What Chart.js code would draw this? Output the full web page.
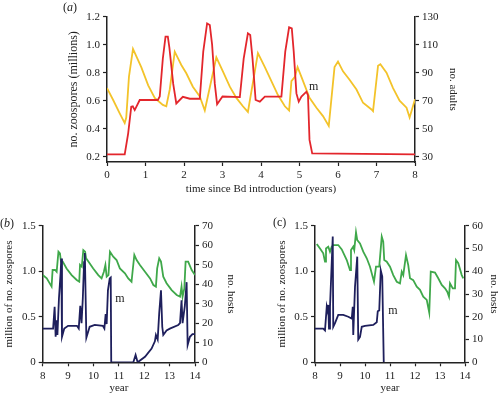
<!DOCTYPE html>
<html lang="en">
<head>
<meta charset="UTF-8">
<title>Bd zoospores and hosts</title>
<script src="https://cdn.jsdelivr.net/npm/chart.js@4.4.0/dist/chart.umd.min.js"></script>
<style>
    body { margin: 0; background: #fff; font-family: "Liberation Serif", serif; }
    .wrap { position: relative; width: 500px; height: 394px; overflow: hidden; }
    canvas { position: absolute; }
    .lab { position: absolute; font-size: 12px; color: #222; line-height: 14px; }
</style>
</head>
<body>
<div class="wrap">
    <canvas id="ca" width="500" height="200" style="left:0;top:0"></canvas>
    <canvas id="cb" width="250" height="194" style="left:0;top:200px"></canvas>
    <canvas id="cc" width="250" height="194" style="left:250px;top:200px"></canvas>
    <div class="lab" style="left:63px;top:0">(<i>a</i>)</div>
    <div class="lab" style="left:0;top:216px">(<i>b</i>)</div>
    <div class="lab" style="left:273px;top:215px">(c)</div>
</div>
<script>
    // panel (a): zoospores (millions) and adults over 8 years
    const aSporeYears = [0, 0.46, 0.55, 0.63, 0.67, 0.72, 0.85, 1.32, 1.37, 1.45, 1.52, 1.58, 1.62, 1.72, 1.8, 1.97, 2.15, 2.41, 2.5, 2.6, 2.67, 2.73, 2.8, 2.86, 3.0, 3.45, 3.55, 3.66, 3.72, 3.78, 3.86, 3.97, 4.1, 4.53, 4.63, 4.73, 4.8, 4.85, 4.92, 4.98, 5.05, 5.18, 5.22, 5.26, 5.33, 8.0];
    const aSpores = [0.217, 0.217, 0.367, 0.557, 0.56, 0.533, 0.605, 0.605, 0.63, 0.9, 1.057, 1.057, 0.98, 0.72, 0.58, 0.628, 0.614, 0.614, 0.95, 1.152, 1.14, 1.0, 0.72, 0.574, 0.63, 0.625, 0.9, 1.081, 1.07, 0.9, 0.605, 0.593, 0.629, 0.629, 0.95, 1.124, 1.117, 0.95, 0.652, 0.593, 0.629, 0.664, 0.64, 0.32, 0.224, 0.217];
    const aAdultYears = [0, 0.16, 0.33, 0.46, 0.5, 0.57, 0.675, 0.89, 1.07, 1.24, 1.45, 1.54, 1.63, 1.76, 1.93, 2.06, 2.23, 2.41, 2.54, 2.84, 3.01, 3.19, 3.36, 3.53, 3.66, 3.92, 4.1, 4.27, 4.44, 4.62, 4.73, 4.79, 4.88, 4.95, 5.05, 5.26, 5.44, 5.61, 5.76, 5.91, 6.0, 6.13, 6.3, 6.48, 6.65, 6.87, 6.91, 7.04, 7.1, 7.26, 7.43, 7.6, 7.78, 7.86, 8.0];
    const aAdults = [79, 70.5, 61, 54, 58, 87, 107, 94, 81, 72, 67, 66, 78, 105, 95.5, 89.6, 80, 73, 63, 101, 91, 80, 72, 66, 62, 104, 94, 84, 74, 66, 63, 84, 87, 94, 87, 72, 65, 59, 52, 94, 98, 91, 85, 78, 68.5, 63.7, 62.5, 95, 96, 90, 79, 70, 65, 58, 71];
    const aYearTicks = [0, 1, 2, 3, 4, 5, 6, 7, 8];
    const aSporeTicks = [0.2, 0.4, 0.6, 0.8, 1.0, 1.2];
    const aAdultTicks = [30, 50, 70, 90, 110, 130];

    // panel (b)
    const bSporeYears = [8, 8.41, 8.47, 8.51, 8.55, 8.58, 8.64, 8.71, 8.73, 8.76, 8.85, 9.0, 9.35, 9.42, 9.48, 9.53, 9.58, 9.63, 9.66, 9.72, 9.85, 10.05, 10.37, 10.43, 10.48, 10.52, 10.57, 10.64, 10.68, 10.7, 11.57, 11.66, 11.74, 12.03, 12.29, 12.42, 12.46, 12.53, 12.59, 12.66, 12.71, 12.75, 12.88, 13.01, 13.34, 13.41, 13.47, 13.51, 13.6, 13.67, 13.71, 13.8, 13.9, 14.0];
    const bSpores = [0.37, 0.37, 0.61, 0.28, 0.46, 0.3, 0.7, 1.0, 1.14, 0.28, 0.37, 0.4, 0.4, 0.37, 0.62, 0.43, 0.7, 1.1, 1.2, 0.27, 0.39, 0.41, 0.4, 0.37, 0.53, 0.42, 0.79, 0.92, 0.93, 0, 0, 0.08, 0, 0.06, 0.15, 0.23, 0.3, 0.25, 0.54, 0.79, 0.39, 0.3, 0.35, 0.37, 0.41, 0.43, 0.68, 0.43, 0.62, 0.88, 0.19, 0.28, 0.31, 0.31];
    const bHostYears = [8, 8.16, 8.35, 8.39, 8.49, 8.55, 8.62, 8.68, 8.72, 8.79, 8.94, 9.14, 9.34, 9.44, 9.47, 9.54, 9.6, 9.67, 9.71, 9.8, 9.99, 10.19, 10.32, 10.41, 10.47, 10.52, 10.59, 10.65, 10.78, 10.91, 11.04, 11.24, 11.37, 11.5, 11.54, 11.61, 11.7, 11.83, 12.03, 12.23, 12.36, 12.46, 12.51, 12.59, 12.66, 12.75, 12.88, 13.08, 13.28, 13.41, 13.47, 13.51, 13.58, 13.63, 13.73, 13.87, 14.0];
    const bHosts = [44.7, 43, 38.8, 47.3, 47.3, 46.4, 56.7, 55.8, 51.6, 51.6, 48.1, 44.7, 42.2, 41.3, 49.9, 49, 57.5, 56.7, 53.3, 51.6, 48.1, 44.7, 43, 46.4, 49.9, 43.9, 44.7, 56.7, 54.1, 52.4, 48.1, 45.6, 43, 41.3, 46.4, 55, 52.4, 49.9, 46.4, 43, 39.6, 38.8, 48.1, 53.3, 51.6, 43.9, 40.5, 37, 34.5, 33.6, 38.8, 33.6, 37.9, 51.6, 51.6, 47.3, 44.7];
    const bHostTicks = [0, 10, 20, 30, 40, 50, 60, 70];

    // panel (c)
    const cSporeYears = [8, 8.33, 8.4, 8.47, 8.5, 8.53, 8.56, 8.6, 8.71, 8.73, 8.8, 8.93, 9.13, 9.33, 9.47, 9.51, 9.53, 9.6, 9.69, 9.73, 9.8, 9.87, 10.0, 10.33, 10.47, 10.51, 10.57, 10.63, 10.69, 10.75];
    const cSpores = [0.37, 0.37, 0.35, 0.61, 0.57, 0.63, 0.37, 0.61, 1.38, 0.39, 0.43, 0.52, 0.52, 0.5, 0.48, 0.61, 0.3, 0.83, 1.16, 0.25, 0.28, 0.39, 0.4, 0.41, 0.44, 0.56, 0.57, 1.01, 0.94, 0];
    const cHostYears = [8.07, 8.2, 8.33, 8.4, 8.44, 8.53, 8.6, 8.67, 8.73, 8.93, 9.07, 9.27, 9.4, 9.44, 9.53, 9.57, 9.64, 9.69, 9.8, 9.93, 10.07, 10.2, 10.36, 10.44, 10.57, 10.67, 10.73, 10.77, 10.87, 11.0, 11.13, 11.27, 11.4, 11.47, 11.53, 11.64, 11.73, 11.8, 11.93, 12.07, 12.2, 12.33, 12.47, 12.57, 12.63, 12.8, 12.93, 13.07, 13.2, 13.29, 13.36, 13.4, 13.51, 13.6, 13.64, 13.73, 13.87, 13.93];
    const cHosts = [52, 50, 47.9, 44.2, 50, 50.8, 48.6, 50.8, 51.5, 51.5, 49.6, 44.9, 40.5, 49.3, 50.8, 49.3, 57.1, 53.7, 52.2, 48.6, 45.7, 42, 35.4, 42, 42, 55.2, 53, 44.9, 44.2, 42, 38.3, 35.4, 34.7, 39.8, 38.3, 47.1, 42.7, 36.9, 36.1, 33.2, 31.8, 28.8, 27.4, 21.8, 39.8, 39.4, 36.9, 34, 32.5, 31, 28.8, 34.7, 32.5, 32.5, 44.9, 43.5, 38.3, 36.9];
    const cHostTicks = [0, 10, 20, 30, 40, 50, 60];

    const yearTicks = [8, 9, 10, 11, 12, 13, 14];
    const sporeTicks = [0, 0.5, 1.0, 1.5];

    const serif = '"Liberation Serif", "Times New Roman", serif';
    const ink = '#222';

    function pts(xs, ys) {
        return xs.map((x, i) => ({ x: x, y: ys[i] }));
    }

    // zero stays bare, everything else on the spore axes gets one decimal
    function fmt(v, decimals) {
        if (v === 0) return '0';
        return decimals ? v.toFixed(1) : String(v);
    }

    // fixed box size + fixed tick list so the plot area lands where the figure has it
    function axis(pos, min, max, ticks, size, title, titleSize, lh, decimals) {
        return {
            type: 'linear',
            position: pos,
            min: min,
            max: max,
            afterBuildTicks: s => { s.ticks = ticks.map(v => ({ value: v })); },
            afterFit: s => {
                if (pos === 'bottom') s.height = size; else s.width = size;
            },
            grid: { drawOnChartArea: false, color: ink, tickLength: 4, tickWidth: 1.2 },
            border: { color: ink, width: 1.5 },
            ticks: {
                color: ink,
                font: { family: serif, size: 11 },
                padding: 3,
                autoSkip: false,
                maxRotation: 0,
                callback: v => fmt(v, decimals)
            },
            title: {
                display: true,
                text: title,
                color: ink,
                padding: 0,
                font: { family: serif, size: titleSize, lineHeight: lh }
            }
        };
    }

    const markLabel = {
        id: 'markLabel',
        afterDatasetsDraw(chart, args, opts) {
            const ctx = chart.ctx;
            ctx.save();
            ctx.font = '12px ' + serif;
            ctx.fillStyle = ink;
            ctx.textAlign = 'center';
            ctx.textBaseline = 'middle';
            ctx.fillText('m', chart.scales.x.getPixelForValue(opts.x), chart.scales.y.getPixelForValue(opts.y));
            ctx.restore();
        }
    };

    function line(label, data, color, axisId) {
        return {
            label: label,
            data: data,
            borderColor: color,
            borderWidth: 1.8,
            pointRadius: 0,
            fill: false,
            tension: 0,
            yAxisID: axisId
        };
    }

    function baseOptions(padding, scales, mark) {
        return {
            responsive: false,
            animation: false,
            layout: { padding: padding },
            plugins: { legend: { display: false }, tooltip: { enabled: false }, markLabel: mark },
            scales: scales
        };
    }

    new Chart(document.getElementById('ca'), {
        type: 'line',
        data: {
            datasets: [
                line('no. zoospores (millions)', pts(aSporeYears, aSpores), '#e3262c', 'y'),
                line('no. adults', pts(aAdultYears, aAdults), '#f3c32a', 'y2')
            ]
        },
        options: baseOptions(
            { left: 67, right: 41, top: 16.7, bottom: 4.5 },
            {
                x: axis('bottom', 0, 8, aYearTicks, 33.5, 'time since Bd introduction (years)', 11, 1.2, false),
                y: axis('left', 0.162, 1.2, aSporeTicks, 40, 'no. zoospores (millions)', 12, 1.2, true),
                y2: axis('right', 26.2, 130, aAdultTicks, 44, 'no. adults', 11, 1.2, false)
            },
            { x: 5.37, y: 0.7 }
        ),
        plugins: [markLabel]
    });

    new Chart(document.getElementById('cb'), {
        type: 'line',
        data: {
            datasets: [
                line('million of no. zoospores', pts(bSporeYears, bSpores), '#1e1f5c', 'y'),
                line('no. hosts', pts(bHostYears, bHosts), '#3fa84a', 'y2')
            ]
        },
        options: baseOptions(
            { left: 3, right: 13, top: 25.7, bottom: 0.5 },
            {
                x: axis('bottom', 8, 14, yearTicks, 31.2, 'year', 11, 1, false),
                y: axis('left', 0, 1.5, sporeTicks, 39.7, 'million of no. zoospores', 11, 1.2, true),
                y2: axis('right', 0, 70, bHostTicks, 42, 'no. hosts', 11, 1.2, false)
            },
            { x: 11.04, y: 0.695 }
        ),
        plugins: [markLabel]
    });

    new Chart(document.getElementById('cc'), {
        type: 'line',
        data: {
            datasets: [
                line('million of no. zoospores', pts(cSporeYears, cSpores), '#1e1f5c', 'y'),
                line('no. hosts', pts(cHostYears, cHosts), '#3fa84a', 'y2')
            ]
        },
        options: baseOptions(
            { left: 25.4, right: 0, top: 25.7, bottom: 0.5 },
            {
                x: axis('bottom', 8, 14, yearTicks, 31.2, 'year', 11, 1, false),
                y: axis('left', 0, 1.5, sporeTicks, 39.6, 'million of no. zoospores', 11, 1.2, true),
                y2: axis('right', 0, 60, cHostTicks, 35, 'no. hosts', 11, 1.2, false)
            },
            { x: 11.12, y: 0.563 }
        ),
        plugins: [markLabel]
    });
</script>
</body>
</html>
